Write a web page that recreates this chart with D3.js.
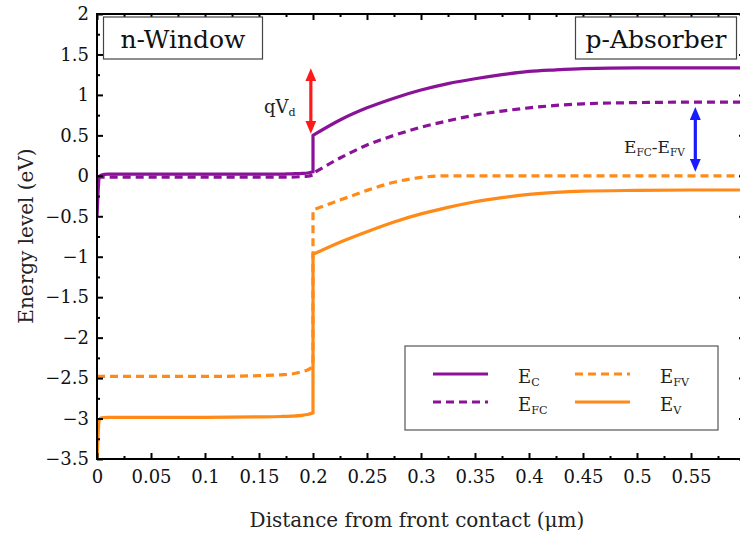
<!DOCTYPE html>
<html>
<head>
<meta charset="utf-8">
<script src="https://cdn.jsdelivr.net/npm/d3@7"></script>
<style>
body { margin: 0; background: #fff; }
svg { display: block; font-family: "DejaVu Serif", serif; }
</style>
</head>
<body>
<svg id="chart" width="740" height="535"></svg>
<script>
// positions along the device (um)
var xWindow = [0, 0.001, 0.002, 0.004, 0.01, 0.05, 0.1, 0.15, 0.17, 0.18, 0.19, 0.195, 0.2];
var xAbsorber = [0.2, 0.225, 0.25, 0.275, 0.3, 0.325, 0.35, 0.375, 0.4, 0.425, 0.45, 0.5, 0.55, 0.6];

// band energies (eV) in the n-window
var ecWindow  = [-0.5, -0.2, -0.02, 0.01, 0.02, 0.02, 0.02, 0.02, 0.02, 0.025, 0.03, 0.035, 0.05];
var efcWindow = [0, -0.01, -0.015, -0.015, -0.015, -0.015, -0.015, -0.015, -0.015, -0.015, -0.01, -0.005, 0.01];
var efvWindow = [-2.48, -2.48, -2.48, -2.48, -2.48, -2.48, -2.48, -2.47, -2.46, -2.45, -2.42, -2.4, -2.36];
var evWindow  = [-3.5, -3.2, -3.02, -2.99, -2.985, -2.985, -2.985, -2.98, -2.975, -2.97, -2.96, -2.95, -2.93];

// band energies (eV) in the p-absorber
var ecAbsorber  = [0.5, 0.69, 0.84, 0.96, 1.06, 1.14, 1.2, 1.25, 1.29, 1.31, 1.325, 1.335, 1.335, 1.335];
var efcAbsorber = [0.03, 0.22, 0.38, 0.5, 0.6, 0.68, 0.75, 0.8, 0.84, 0.87, 0.89, 0.905, 0.91, 0.91];
var efvAbsorber = [-0.42, -0.3, -0.18, -0.08, -0.02, 0, 0, 0, 0, 0, 0, 0, 0, 0];
var evAbsorber  = [-0.97, -0.82, -0.69, -0.57, -0.47, -0.39, -0.32, -0.27, -0.23, -0.205, -0.19, -0.18, -0.175, -0.175];

var xTicks = [0, 0.05, 0.1, 0.15, 0.2, 0.25, 0.3, 0.35, 0.4, 0.45, 0.5, 0.55, 0.6];
var xTickLabels = ["0", "0.05", "0.1", "0.15", "0.2", "0.25", "0.3", "0.35", "0.4", "0.45", "0.5", "0.55", ""];
var yTicks = [2, 1.5, 1, 0.5, 0, -0.5, -1, -1.5, -2, -2.5, -3, -3.5];
var yTickLabels = ["2", "1.5", "1", "0.5", "0", "\u22120.5", "\u22121", "\u22121.5", "\u22122", "\u22122.5", "\u22123", "\u22123.5"];

var purple = "#8a1298", orange = "#ff8a17";

var svg = d3.select("#chart");
var plotLeft = 97, plotRight = 745, plotTop = 14, plotBottom = 459;

var x = d3.scaleLinear().domain([0, 0.6]).range([plotLeft, plotRight]);
var y = d3.scaleLinear().domain([-3.5, 2]).range([plotBottom, plotTop]);

svg.append("rect").attr("width", 740).attr("height", 535).attr("fill", "#fff");

var defs = svg.append("defs");
defs.append("clipPath").attr("id", "plot")
    .append("rect").attr("x", plotLeft).attr("y", plotTop)
    .attr("width", plotRight - plotLeft).attr("height", plotBottom - plotTop);

// curves
var mono = d3.line().x(function(d) { return x(d[0]); }).y(function(d) { return y(d[1]); })
    .curve(d3.curveMonotoneX);

function bandPath(win, abs) {
    var a = mono(xWindow.map(function(v, i) { return [v, win[i]]; }));
    var b = mono(xAbsorber.map(function(v, i) { return [v, abs[i]]; }));
    return a + "L" + b.slice(1);
}

var bands = [
    {win: ecWindow, abs: ecAbsorber, color: purple, dash: null},
    {win: efcWindow, abs: efcAbsorber, color: purple, dash: "8,5"},
    {win: efvWindow, abs: efvAbsorber, color: orange, dash: "8,5"},
    {win: evWindow, abs: evAbsorber, color: orange, dash: null}
];

svg.append("g").attr("clip-path", "url(#plot)")
    .selectAll("path.band")
    .data(bands)
    .enter().append("path")
    .attr("class", "band")
    .attr("d", function(d) { return bandPath(d.win, d.abs); })
    .attr("fill", "none")
    .attr("stroke", function(d) { return d.color; })
    .attr("stroke-width", 3.2)
    .attr("stroke-dasharray", function(d) { return d.dash; });

// axes: major ticks labelled, minor ticks between, mirrored on top/right
var xMinor = d3.range(0.025, 0.6, 0.05);
var yMinor = d3.range(-3.25, 2, 0.5);

function styleAxis(g) {
    g.select(".domain").remove();
    g.selectAll(".tick line").attr("stroke", "#000").attr("stroke-width", 2);
    g.selectAll(".tick text").attr("fill", "#111").style("font-family", "DejaVu Serif, serif")
        .style("font-size", "18px");
}

svg.append("g").attr("transform", "translate(0," + plotBottom + ")")
    .call(d3.axisBottom(x).tickValues(xTicks).tickSizeInner(-6).tickSizeOuter(0).tickPadding(11)
        .tickFormat(function(d, i) { return xTickLabels[i]; }))
    .call(styleAxis);
svg.append("g").attr("transform", "translate(0," + plotBottom + ")")
    .call(d3.axisBottom(x).tickValues(xMinor).tickSizeInner(-3).tickSizeOuter(0).tickFormat(""))
    .call(styleAxis);
svg.append("g").attr("transform", "translate(0," + plotTop + ")")
    .call(d3.axisTop(x).tickValues(xTicks).tickSizeInner(-6).tickSizeOuter(0).tickFormat(""))
    .call(styleAxis);
svg.append("g").attr("transform", "translate(0," + plotTop + ")")
    .call(d3.axisTop(x).tickValues(xMinor).tickSizeInner(-3).tickSizeOuter(0).tickFormat(""))
    .call(styleAxis);

svg.append("g").attr("transform", "translate(" + plotLeft + ",0)")
    .call(d3.axisLeft(y).tickValues(yTicks).tickSizeInner(-6).tickSizeOuter(0).tickPadding(8)
        .tickFormat(function(d, i) { return yTickLabels[i]; }))
    .call(styleAxis);
svg.append("g").attr("transform", "translate(" + plotLeft + ",0)")
    .call(d3.axisLeft(y).tickValues(yMinor).tickSizeInner(-3).tickSizeOuter(0).tickFormat(""))
    .call(styleAxis);
svg.append("g").attr("transform", "translate(" + plotRight + ",0)")
    .call(d3.axisRight(y).tickValues(yTicks).tickSizeInner(-6).tickSizeOuter(0).tickFormat(""))
    .call(styleAxis);
svg.append("g").attr("transform", "translate(" + plotRight + ",0)")
    .call(d3.axisRight(y).tickValues(yMinor).tickSizeInner(-3).tickSizeOuter(0).tickFormat(""))
    .call(styleAxis);

svg.append("rect")
    .attr("x", plotLeft).attr("y", plotTop)
    .attr("width", plotRight - plotLeft).attr("height", plotBottom - plotTop)
    .attr("fill", "none").attr("stroke", "#000").attr("stroke-width", 2);

// axis titles
svg.append("text")
    .attr("x", 417).attr("y", 527)
    .attr("text-anchor", "middle")
    .style("font-size", "20px").attr("fill", "#222")
    .text("Distance from front contact (\u03bcm)");

svg.append("text")
    .attr("transform", "translate(33,236) rotate(-90)")
    .attr("text-anchor", "middle")
    .style("font-size", "20px").attr("fill", "#222")
    .text("Energy level (eV)");

// region labels
function regionBox(x0, w, label) {
    svg.append("rect").attr("x", x0).attr("y", 17).attr("width", w).attr("height", 42)
        .attr("fill", "#fff").attr("stroke", "#444").attr("stroke-width", 1.2);
    svg.append("text").attr("x", x0 + w / 2).attr("y", 48)
        .attr("text-anchor", "middle").style("font-size", "25px").attr("fill", "#111")
        .text(label);
}
regionBox(103.5, 159, "n-Window");
regionBox(575.5, 161, "p-Absorber");

// double arrows
[["head-red", "#ff1a1a"], ["head-blue", "#1a1aff"]].forEach(function(m) {
    defs.append("marker").attr("id", m[0])
        .attr("viewBox", "0 -5.5 13 11")
        .attr("markerUnits", "userSpaceOnUse")
        .attr("markerWidth", 13).attr("markerHeight", 11)
        .attr("refX", 2).attr("refY", 0)
        .attr("orient", "auto-start-reverse")
        .append("path").attr("d", "M0,-5.5L13,0L0,5.5Z").attr("fill", m[1]);
});

function doubleArrow(xv, yTop, yBottom, color, marker) {
    svg.append("line")
        .attr("x1", x(xv)).attr("x2", x(xv))
        .attr("y1", y(yTop) + 11).attr("y2", y(yBottom) - 11)
        .attr("stroke", color).attr("stroke-width", 3.2)
        .attr("marker-start", "url(#" + marker + ")")
        .attr("marker-end", "url(#" + marker + ")");
}
doubleArrow(0.198, 1.33, 0.52, "#ff1a1a", "head-red");
doubleArrow(0.554, 0.85, 0.05, "#1a1aff", "head-blue");

// annotation texts with subscripts
function subText(xp, yp, parts, size, anchor) {
    var t = svg.append("text").attr("x", xp).attr("y", yp)
        .attr("text-anchor", anchor || "start")
        .style("font-size", size + "px").attr("fill", "#222");
    parts.forEach(function(p) {
        t.append("tspan")
            .style("font-size", (p[1] ? size * 0.62 : size) + "px")
            .attr("dy", p[1] ? 3 : (p[2] ? -3 : null))
            .text(p[0]);
    });
    return t;
}
subText(264, 113, [["qV"], ["d", true]], 18);
subText(624, 153, [["E"], ["FC", true], ["-", false, true], ["E"], ["FV", true]], 17);

// legend
svg.append("rect").attr("x", 405).attr("y", 346).attr("width", 313).attr("height", 84)
    .attr("fill", "#fff").attr("stroke", "#555").attr("stroke-width", 1.2);

var legendItems = [
    {label: ["E", "C"], color: purple, dash: null, lx: 433, ly: 374},
    {label: ["E", "FC"], color: purple, dash: "8,5", lx: 433, ly: 402},
    {label: ["E", "FV"], color: orange, dash: "8,5", lx: 575, ly: 374},
    {label: ["E", "V"], color: orange, dash: null, lx: 575, ly: 402}
];
legendItems.forEach(function(d) {
    svg.append("line").attr("x1", d.lx).attr("x2", d.lx + 55)
        .attr("y1", d.ly).attr("y2", d.ly)
        .attr("stroke", d.color).attr("stroke-width", 3.2)
        .attr("stroke-dasharray", d.dash);
    subText(d.lx + 85, d.ly + 9, [[d.label[0]], [d.label[1], true]], 18);
});
</script>
</body>
</html>
